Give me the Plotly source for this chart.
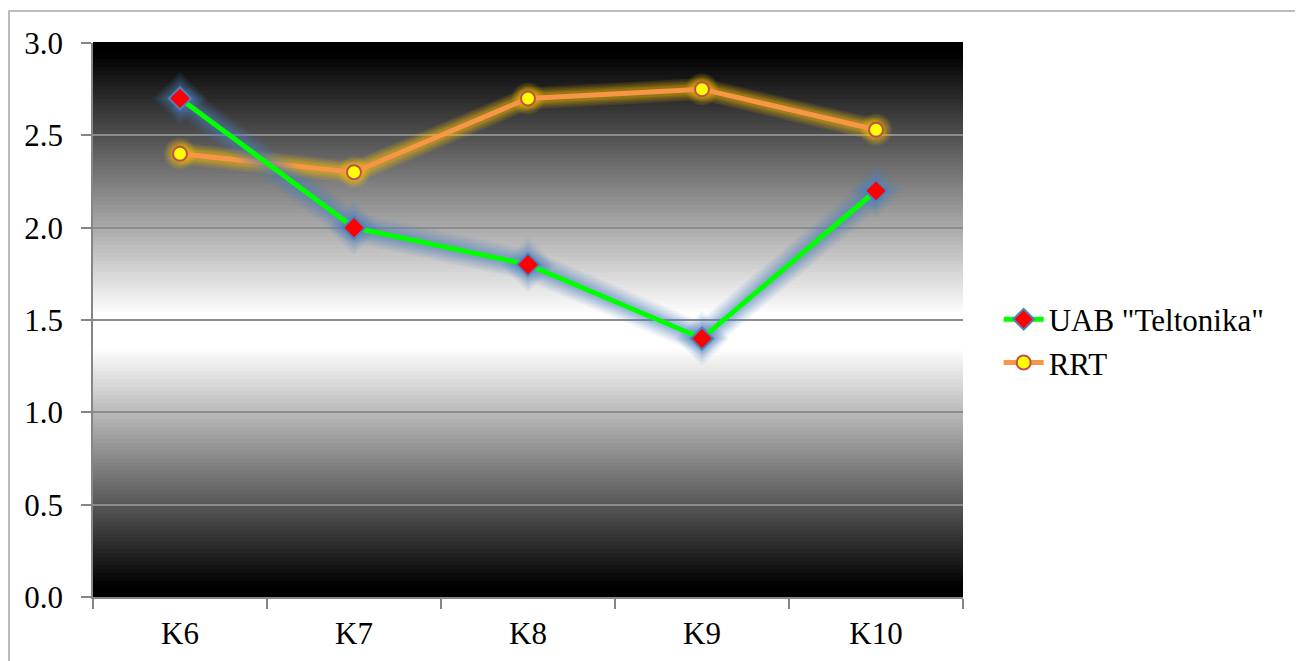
import plotly.graph_objects as go

categories = ["K6", "K7", "K8", "K9", "K10"]
uab_values = [2.7, 2.0, 1.8, 1.4, 2.2]
rrt_values = [2.4, 2.3, 2.7, 2.75, 2.53]
y_ticks = [0.0, 0.5, 1.0, 1.5, 2.0, 2.5, 3.0]

FONT = "Times New Roman, DejaVu Serif"
FS = 31

fig = go.Figure()

# background gradient (black - white - black) as thin strips
N = 140
shapes = []
for i in range(N):
    t0 = i / N
    t1 = (i + 1) / N
    tm = (t0 + t1) / 2  # 0 at bottom, 1 at top
    d = 1 - tm  # 0 at top
    if d < 0.02:
        v = 0.0
    elif d < 0.49:
        v = (d - 0.02) / 0.47
    elif d < 0.55:
        v = 1.0
    elif d < 0.98:
        v = 1 - (d - 0.55) / 0.43
    else:
        v = 0.0
    g = int(round(255 * v))
    shapes.append(dict(type="rect", xref="paper", yref="paper", x0=0, x1=1,
                       y0=t0, y1=t1 + 0.002, line=dict(width=0),
                       fillcolor=f"rgb({g},{g},{g})", layer="below"))

# outer chart border
shapes.append(dict(type="rect", xref="paper", yref="paper",
                   x0=(9 - 93) / 870, x1=1.6, y0=-0.3, y1=(597 - 11) / 554,
                   line=dict(color="#a6a6a6", width=1.5), fillcolor="rgba(0,0,0,0)",
                   layer="below"))


def glow(values, color, marker_symbol, marker_size, layers):
    for w, a in layers:
        fig.add_trace(go.Scatter(
            x=categories, y=values, mode="lines+markers",
            line=dict(color=f"rgba({color},{a})", width=w),
            marker=dict(symbol=marker_symbol, size=marker_size + w, color=f"rgba({color},{a})",
                        line=dict(width=0)),
            showlegend=False, hoverinfo="skip"))


# RRT (drawn first, below)
glow(rrt_values, "255,192,0", "circle", 10,
     [(22, 0.1), (19, 0.1), (16, 0.12), (13, 0.15), (10, 0.2)])
fig.add_trace(go.Scatter(
    x=categories, y=rrt_values, name="RRT", mode="lines+markers",
    line=dict(color="#F79646", width=5),
    marker=dict(symbol="circle", size=14, color="#FFFF00",
                line=dict(color="#C0504D", width=2)),
    legendrank=2))

# UAB
glow(uab_values, "79,129,189", "diamond", 12,
     [(30, 0.08), (26, 0.09), (22, 0.1), (18, 0.12), (14, 0.14), (10, 0.16)])
fig.add_trace(go.Scatter(
    x=categories, y=uab_values, name='UAB "Teltonika"', mode="lines+markers",
    line=dict(color="#00FF00", width=5),
    marker=dict(symbol="diamond", size=17, color="#FF0000",
                line=dict(color="#4F81BD", width=2)),
    legendrank=1))

# body margin of the page is ~8px, so offset margins accordingly
OFF = 8
fig.update_layout(
    width=1303, height=661,
    margin=dict(l=93 - OFF, r=340 + OFF, t=43 - OFF, b=64 + OFF),
    paper_bgcolor="white", plot_bgcolor="black",
    shapes=shapes,
    font=dict(family=FONT, size=FS, color="black"),
    showlegend=True,
    legend=dict(x=1.041, xanchor="left", y=0.462, yanchor="middle",
                font=dict(family=FONT, size=FS), bgcolor="rgba(0,0,0,0)",
                tracegroupgap=0, itemwidth=40),
    xaxis=dict(type="category", categoryorder="array", categoryarray=categories,
               range=[-0.5, 4.5], showgrid=False, showline=True,
               linecolor="#868686", linewidth=1.5, ticks="outside",
               tickson="boundaries", ticklen=10, tickcolor="#868686", tickwidth=1.5,
               tickfont=dict(family=FONT, size=FS, color="black"), zeroline=False,
               ticklabelstandoff=8),
    yaxis=dict(range=[0, 3.0], tickvals=y_ticks, ticktext=[f"{v:.1f}" for v in y_ticks],
               showgrid=True, gridcolor="#8c8c8c", gridwidth=1.5,
               showline=True, linecolor="#868686", linewidth=1.5,
               ticks="outside", ticklen=10, tickcolor="#868686", tickwidth=1.5,
               tickfont=dict(family=FONT, size=FS, color="black"), zeroline=False,
               ticklabelstandoff=12),
)

fig.write_html("out.html")
